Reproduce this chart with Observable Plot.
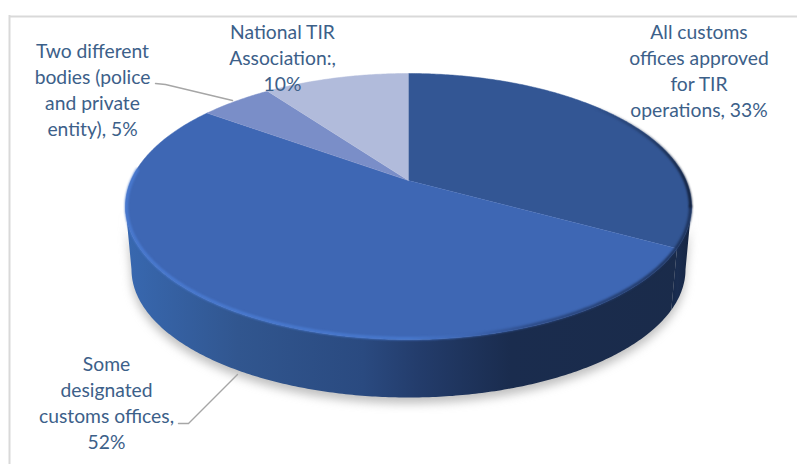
<!DOCTYPE html>
<html>
<head>
<meta charset="utf-8">
<script src="https://cdn.jsdelivr.net/npm/d3@7"></script>
<script src="https://cdn.jsdelivr.net/npm/@observablehq/plot@0.6"></script>
<style>html,body{margin:0;padding:0;background:#fff}svg{display:block}</style>
</head>
<body>
<script>
// Data
const categories = [
  "All customs offices approved for TIR operations",
  "Some designated customs offices",
  "Two different bodies (police and private entity)",
  "National TIR Association:"
];
const shares = [33, 52, 5, 10];
const labelTexts = [
  "All customs\noffices approved\nfor TIR\noperations, 33%",
  "Some\ndesignated\ncustoms offices,\n52%",
  "Two different\nbodies (police\nand private\nentity), 5%",
  "National TIR\nAssociation:,\n10%"
];
const topColors = ["#335694", "#3e67b4", "#7a8ec8", "#b1bbdb"];

// Layout of the tilted disc
const top3d = {cx: 408, cy: 206, rx: 283, ry: 133};
const bottom3d = {cx: 408, cy: 269, rx: 277, ry: 128};
const tilt = 0.195;   // perspective shift of the disc's centre
const textColor = "#3c6089";
const labelSpots = [[698.5, 69], [106, 401], [92, 88], [282, 56]];
const leaders = [
  [[155, 83], [165, 84], [232, 100]],
  [[178, 423], [188, 423], [237, 374]]
];

// Pie angle (clockwise from 12 o'clock) to a point on the projected rim
function rim(e, a) {
  const u = Math.sin(a), v = Math.cos(a), d = 1 + tilt * v;
  return [e.cx + e.rx * u * Math.sqrt(1 - tilt * tilt) / d, e.cy - e.ry * (v + tilt) / d];
}
function apex() { return [top3d.cx, top3d.cy - top3d.ry * tilt]; }
function arc(e, a0, a1) {
  const n = Math.max(2, Math.ceil(Math.abs(a1 - a0) / 0.01));
  return d3.range(n + 1).map(i => rim(e, a0 + (a1 - a0) * i / n));
}

const pieAngles = d3.pie().sort(null).value(d => d)(shares);
const frontStart = Math.acos(-tilt), frontEnd = 2 * Math.PI - frontStart;

const topRows = pieAngles.flatMap((p, i) =>
  [apex(), ...arc(top3d, p.startAngle, p.endAngle)].map(([x, y]) => ({x, y, k: categories[i]})));

const sideRows = pieAngles.flatMap((p, i) => {
  const a0 = Math.max(p.startAngle, frontStart), a1 = Math.min(p.endAngle, frontEnd);
  if (a1 <= a0) return [];
  return [...arc(top3d, a0, a1), ...arc(bottom3d, a1, a0)].map(([x, y]) => ({x, y, k: categories[i]}));
});

const xy = pts => pts.map(([x, y]) => ({x, y}));
const inset = {...top3d, rx: top3d.rx - 1, ry: top3d.ry - 1};
const deg = d => d * Math.PI / 180;

const defs = () => {
  const g = d3.create("svg:defs");
  const grad = (id, stops) => {
    const l = g.append("linearGradient").attr("id", id)
      .attr("gradientUnits", "userSpaceOnUse")
      .attr("x1", 125).attr("x2", 691).attr("y1", 0).attr("y2", 0);
    stops.forEach(([o, c, a]) => l.append("stop").attr("offset", o).attr("stop-color", c).attr("stop-opacity", a ?? 1));
  };
  grad("sideA", [[0, "#3868b0"], [0.2, "#31568f"], [0.42, "#2a4a80"], [0.52, "#233c6b"], [0.68, "#1a2c4e"], [1, "#1a2b4a"]]);
  grad("sideB", [[0.96, "#142646"], [0.975, "#1a2d50"], [1, "#14233f"]]);
  grad("bevelFront", [[0, "#4a7bd2"], [0.5, "#4879ce"], [0.6, "#3e67b4"], [0.72, "#2c4a85"], [1, "#1c3057"]]);
  grad("bevelRight", [[0.82, "#14233f", 0], [0.92, "#1a2d50", 0.6], [1, "#101c34", 1]]);
  return g.node();
};

const chart = Plot.plot({
  width: 797,
  height: 464,
  margin: 0,
  style: {background: "#fff", fontFamily: "Lato, 'Open Sans', sans-serif"},
  x: {domain: [0, 797], range: [0, 797], axis: null},
  y: {domain: [0, 464], range: [0, 464], axis: null},
  color: {domain: categories, range: topColors},
  marks: [
    defs,
    Plot.ruleX([9], {y1: 15, y2: 464, stroke: "#d9d9d9", strokeWidth: 2}),
    Plot.ruleY([16], {x1: 9, x2: 797, stroke: "#d9d9d9", strokeWidth: 2}),
    // soft drop shadow under the disc
    Plot.line(xy([...arc(top3d, frontStart, frontEnd), ...arc(bottom3d, frontEnd, frontStart)]), {
      x: "x", y: d => d.y + 6, fill: "#8c8c8c", stroke: "none", fillOpacity: 0.55, imageFilter: "blur(5px)"
    }),
    // visible side wall, one piece per slice
    Plot.line(sideRows.filter(d => d.k === categories[0]), {x: "x", y: "y", fill: "url(#sideB)", stroke: "none"}),
    Plot.line(sideRows.filter(d => d.k === categories[1]), {x: "x", y: "y", fill: "url(#sideA)", stroke: "none"}),
    // top faces
    Plot.line(topRows, {x: "x", y: "y", z: "k", fill: "k", stroke: "k", strokeWidth: 0.5}),
    // bevel along the rim
    Plot.line(xy(arc(inset, frontStart, deg(275))), {
      x: "x", y: "y", stroke: "url(#bevelFront)", strokeWidth: 3, imageFilter: "blur(1px)"
    }),
    Plot.line(xy(arc(inset, deg(45), frontStart)), {
      x: "x", y: "y", stroke: "url(#bevelRight)", strokeWidth: 3, imageFilter: "blur(1px)"
    }),
    // leader lines
    ...leaders.map(l => Plot.line(xy(l), {x: "x", y: "y", stroke: "#a6a6a6", strokeWidth: 1.4})),
    // labels
    Plot.text(labelTexts, {
      x: (d, i) => labelSpots[i][0],
      y: (d, i) => labelSpots[i][1],
      text: d => d,
      fill: textColor,
      fontSize: 19.3,
      lineHeight: 1.34,
      textAnchor: "middle"
    })
  ]
});
document.body.appendChild(chart);
</script>
</body>
</html>
